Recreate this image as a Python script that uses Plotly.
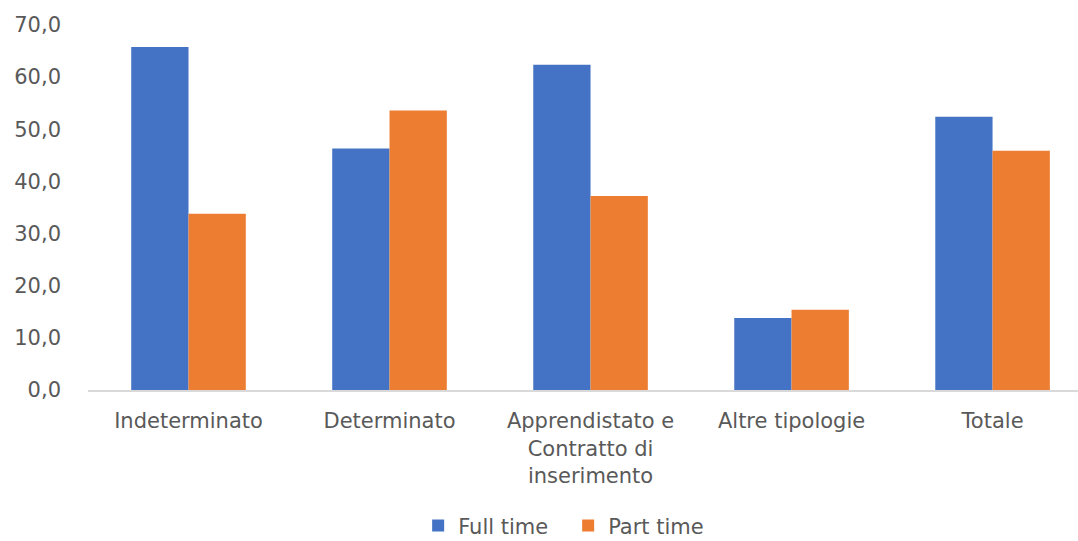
import plotly.graph_objects as go

categories = ["Indeterminato", "Determinato", "Apprendistato e<br>Contratto di<br>inserimento",
              "Altre tipologie", "Totale"]
full_time = [65.8, 46.3, 62.4, 13.8, 52.4]
part_time = [33.8, 53.6, 37.2, 15.4, 45.9]
y_ticks = [0, 10, 20, 30, 40, 50, 60, 70]
y_tick_labels = ["0,0", "10,0", "20,0", "30,0", "40,0", "50,0", "60,0", "70,0"]

positions = list(range(len(categories)))

fig = go.Figure()
fig.add_trace(go.Bar(x=positions, y=full_time, name="Full time",
                     marker=dict(color="#4472C4", line=dict(width=0))))
fig.add_trace(go.Bar(x=positions, y=part_time, name="Part time",
                     marker=dict(color="#ED7D31", line=dict(width=0))))

font = dict(family="DejaVu Sans", size=21, color="#595959")

fig.update_layout(
    width=1078, height=541,
    margin=dict(l=88, r=0, t=25, b=151, autoexpand=False),
    paper_bgcolor="white", plot_bgcolor="white",
    barmode="group", bargap=0.43, bargroupgap=0,
    font=font,
    showlegend=True,
    legend=dict(orientation="h", x=0.485, xanchor="center", y=-0.372, yanchor="middle",
                font=font, itemwidth=30, entrywidth=105, traceorder="normal"),
    xaxis=dict(range=[-0.5, 4.425], tickvals=positions, ticktext=categories,
               showgrid=False, showline=True, linecolor="#D9D9D9", linewidth=2,
               ticks="", tickfont=font, fixedrange=True, automargin=False,
               ticklabelstandoff=11),
    yaxis=dict(range=[0, 70], tickvals=y_ticks, ticktext=y_tick_labels,
               showgrid=False, zeroline=False, showline=False, ticks="",
               tickfont=font, ticklabelstandoff=26, automargin=False),
)

fig.write_html("out.html")
